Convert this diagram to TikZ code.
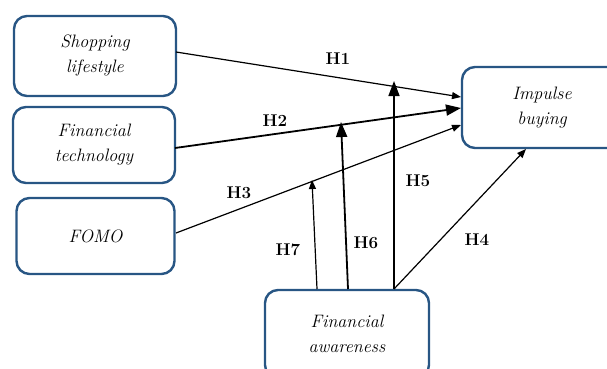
\documentclass[tikz,border=0pt]{standalone}
\usepackage{fontspec}
\usetikzlibrary{arrows.meta,calc}
\definecolor{boxblue}{RGB}{40,86,132}
\begin{document}
\begin{tikzpicture}[x=1pt,y=-1pt,
  vbox/.style={draw=boxblue, line width=2.4pt, rounded corners=13pt, fill=white,
    align=center, inner sep=0pt, font=\fontsize{18}{25}\selectfont\itshape},
  conn/.style={line width=1.2pt, -{Triangle[length=9pt,width=7pt]}},
  thickconn/.style={line width=1.8pt, -{Triangle[length=15pt,width=11pt]}},
  hlab/.style={font=\fontsize{17}{18}\selectfont\bfseries, inner sep=0pt}]
\useasboundingbox (0,0) rectangle (607,369);
\node[vbox, minimum width=162pt, minimum height=80pt] (sl) at (95,56) {Shopping\\lifestyle};
\node[vbox, minimum width=162pt, minimum height=76pt] (ft) at (94,145) {Financial\\technology};
\node[vbox, minimum width=158pt, minimum height=76pt] (fomo) at (95.5,236) {FOMO};
\node[vbox, minimum width=164pt, minimum height=88pt] (fa) at (347,334) {Financial\\awareness};
\node[vbox, minimum width=160pt, minimum height=81pt] (ib) at (542,107.5) {Impulse\\buying};
% end points
\coordinate (s1) at (176,52);
\coordinate (e1) at (461,97);
\coordinate (s2) at (175,148);
\coordinate (e2) at (461,108);
\coordinate (s3) at (176,233);
\coordinate (e3) at (461,125);
\coordinate (s4) at (394,289);
\coordinate (e4) at (526,149);
\coordinate (s6) at (348,289);
\coordinate (s7) at (317,289);
\coordinate (t5) at (394,81);
\coordinate (t6) at (341,122);
\coordinate (t7) at (312,180);
\draw[conn] (s1) -- (e1);
\draw[thickconn] (s2) -- (e2);
\draw[conn] (s3) -- (e3);
\draw[conn] (s4) -- (e4);
\draw[thickconn, line width=1.5pt] (s4) -- (t5);
\draw[thickconn] (s6) -- (t6);
\draw[conn] (s7) -- (t7);
\node[hlab] (h1) at (338,59) {H1};
\node[hlab] (h2) at (275,121) {H2};
\node[hlab] (h3) at (239,193) {H3};
\node[hlab] (h4) at (477,240) {H4};
\node[hlab] (h5) at (418,181) {H5};
\node[hlab] (h6) at (366,243) {H6};
\node[hlab] (h7) at (288,250) {H7};
\end{tikzpicture}
\end{document}
